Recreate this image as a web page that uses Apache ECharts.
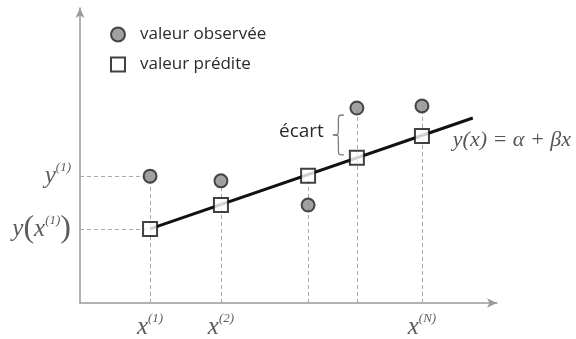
<!DOCTYPE html>
<html>
<head>
<meta charset="utf-8">
<script src="https://cdn.jsdelivr.net/npm/echarts@6/dist/echarts.min.js"></script>
<style>
html,body{margin:0;padding:0;background:#fff;}
#main{width:576px;height:339px;}
</style>
</head>
<body>
<div id="main"></div>
<script>
// ---- data ----
const xPoints   = [16.8, 33.8, 54.7, 66.4, 82.0];
const observed  = [43.0, 41.4, 33.2, 66.1, 66.8];
const predicted = [25.1, 33.2, 43.1, 49.2, 56.6];
const fitLineX  = [16.8, 94.2];
const fitLineY  = [25.1, 62.7];
const xTickLabels = ['(1)', '(2)', '', '', '(N)'];
const seriesNames = ['valeur observée', 'valeur prédite'];
const formulaText = 'y(x) = α + βx';
const gapText = 'écart';
const gapIndex = 3;

const serif = '"Liberation Serif", "DejaVu Serif", serif';
const sans = '"Open Sans", Lato, sans-serif';

// dashed guide segments built from the data
const guides = [];
xPoints.forEach((x, i) => {
  guides.push([{coord: [x, 0]}, {coord: [x, Math.max(observed[i], predicted[i])]}]);
});
guides.push([{coord: [0, observed[0]]}, {coord: [xPoints[0], observed[0]]}]);
guides.push([{coord: [0, predicted[0]]}, {coord: [xPoints[0], predicted[0]]}]);

const richMath = {
  v: {fontFamily: serif, fontStyle: 'italic', fontSize: 25, color: '#333', lineHeight: 30},
  s: {fontFamily: serif, fontStyle: 'italic', fontSize: 13, color: '#333', verticalAlign: 'top', lineHeight: 16},
  p: {fontFamily: serif, fontSize: 32, color: '#333', lineHeight: 30}
};

const xLabelData = xPoints.map((x, i) => ({
  value: [x, 0],
  label: {
    show: xTickLabels[i] !== '',
    formatter: '{v|x}{s|' + xTickLabels[i] + '}'
  }
}));

const yLabelData = [
  {value: [0, observed[0]], label: {formatter: '{v|y}{s|(1)}'}},
  {value: [0, predicted[0]], label: {formatter: '{v|y}{p|(}{v|x}{s|(1)}{p|)}'}}
];

const chart = echarts.init(document.getElementById('main'), null, {renderer: 'canvas'});

const axisCommon = {
  type: 'value', min: 0, max: 100,
  axisLine: {show: true, symbol: ['none', 'arrow'], symbolSize: [7, 10], lineStyle: {color: '#9a9a9a', width: 1.5}},
  axisTick: {show: false}, axisLabel: {show: false}, splitLine: {show: false}
};

chart.setOption({
  animation: false,
  backgroundColor: '#fff',
  grid: {left: 80, right: 79, top: 8, bottom: 36},
  xAxis: Object.assign({}, axisCommon),
  yAxis: Object.assign({}, axisCommon),
  legend: {
    orient: 'vertical', left: 105, top: 21, padding: 5,
    itemWidth: 14, itemHeight: 14, itemGap: 13,
    textStyle: {fontFamily: sans, fontSize: 17, color: '#2a2a2a', padding: [0, 0, 0, 10]},
    data: seriesNames
  },
  series: [
    {
      type: 'line', name: 'fit', silent: true, z: 3,
      data: fitLineX.map((x, i) => [x, fitLineY[i]]),
      symbol: 'none',
      lineStyle: {color: '#111', width: 3},
      endLabel: {
        show: true, formatter: formulaText, offset: [-28, 22],
        fontFamily: serif, fontStyle: 'italic', fontSize: 22, color: '#555'
      },
      markLine: {
        silent: true, symbol: 'none', label: {show: false},
        lineStyle: {color: '#aaa', type: [4, 3], width: 1},
        data: guides
      }
    },
    {
      type: 'scatter', name: seriesNames[1], z: 5,
      data: xPoints.map((x, i) => [x, predicted[i]]),
      symbol: 'rect', symbolSize: 14,
      itemStyle: {color: '#fff', borderColor: '#111', borderWidth: 2}
    },
    {
      type: 'scatter', name: seriesNames[0], z: 5,
      data: xPoints.map((x, i) => [x, observed[i]]),
      symbol: 'circle', symbolSize: 13,
      itemStyle: {color: '#8a8a8a', borderColor: '#222', borderWidth: 2}
    },
    {
      type: 'scatter', name: 'xlabels', silent: true, symbolSize: 0,
      data: xLabelData,
      label: {position: 'bottom', distance: 9, rich: richMath}
    },
    {
      type: 'scatter', name: 'ylabels', silent: true, symbolSize: 0,
      data: yLabelData,
      label: {show: true, position: 'left', distance: 9, rich: richMath}
    }
  ]
});

// brace + "écart" annotation placed through the chart's own scales
const topPt = chart.convertToPixel({gridIndex: 0}, [xPoints[gapIndex], observed[gapIndex]]);
const botPt = chart.convertToPixel({gridIndex: 0}, [xPoints[gapIndex], predicted[gapIndex]]);
const y0 = topPt[1] + 7, y1 = botPt[1] - 3;
const h = y1 - y0, w = 11, m = w / 2;
const bx = topPt[0] - 24;
const braceStyle = {fill: null, stroke: '#7a7a7a', lineWidth: 1.3};
const bz = (x1, yy1, cx1, cy1, cx2, cy2, x2, yy2) => ({
  type: 'bezierCurve', x: bx, y: y0,
  shape: {x1: x1, y1: yy1, cpx1: cx1, cpy1: cy1, cpx2: cx2, cpy2: cy2, x2: x2, y2: yy2},
  style: braceStyle
});
const ln = (x1, yy1, x2, yy2) => ({
  type: 'line', x: bx, y: y0, shape: {x1: x1, y1: yy1, x2: x2, y2: yy2}, style: braceStyle
});
chart.setOption({
  graphic: [
    bz(w, 0, m, 0, m, 0, m, h * 0.15),
    ln(m, h * 0.15, m, h * 0.38),
    bz(m, h * 0.38, m, h * 0.5, m, h * 0.5, 0, h * 0.5),
    bz(0, h * 0.5, m, h * 0.5, m, h * 0.5, m, h * 0.62),
    ln(m, h * 0.62, m, h * 0.85),
    bz(m, h * 0.85, m, h, m, h, w, h),
    {type: 'text', x: bx - 9, y: y0 + h / 2 - 3,
     style: {text: gapText, fontFamily: sans, fontSize: 19, fill: '#2a2a2a', align: 'right', verticalAlign: 'middle'}}
  ]
});
</script>
</body>
</html>
